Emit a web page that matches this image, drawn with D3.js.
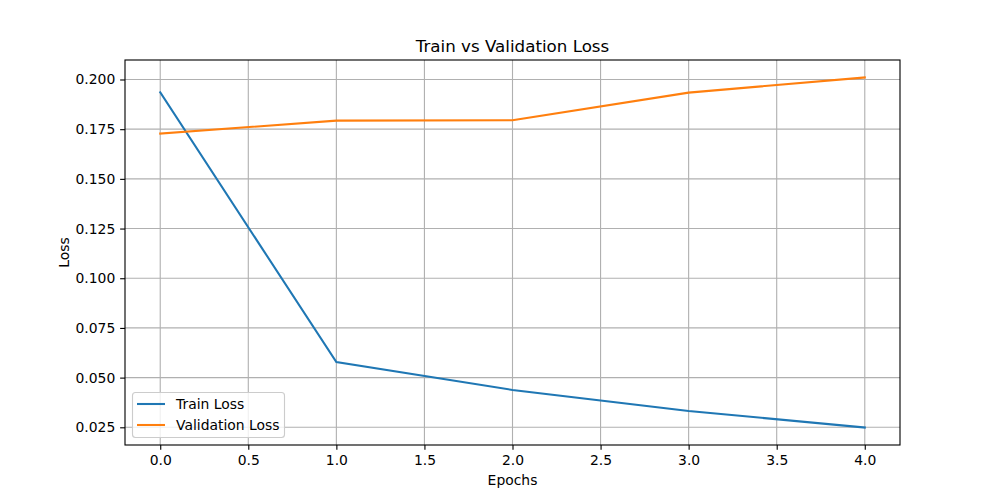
<!DOCTYPE html>
<html><head><meta charset="utf-8">
<script src="https://cdn.jsdelivr.net/npm/d3@7"></script>
<style>body{margin:0;background:#fff}svg{display:block}text{font-family:"DejaVu Sans",sans-serif}</style>
</head><body>
<svg id="c" width="1000" height="500"></svg>
<script>
const epochs = [0, 1, 2, 3, 4];
const trainLoss = [0.1935, 0.0578, 0.0438, 0.0332, 0.0249];
const valLoss = [0.1728, 0.1793, 0.1795, 0.1934, 0.2010];
const xTicks = [0, 0.5, 1, 1.5, 2, 2.5, 3, 3.5, 4];
const yTicks = [0.025, 0.05, 0.075, 0.1, 0.125, 0.15, 0.175, 0.2];
const seriesNames = ["Train Loss", "Validation Loss"];
const colors = ["#1f77b4", "#ff7f0e"];

const svg = d3.select("#c");
const L = 125, R = 900, T = 60, B = 445;
const xMin = 0, xMax = 4, xPad = (xMax - xMin) * 0.05;
const allY = trainLoss.concat(valLoss);
const yMin = d3.min(allY), yMax = d3.max(allY), yPad = (yMax - yMin) * 0.05;
const x = d3.scaleLinear().domain([xMin - xPad, xMax + xPad]).range([L, R]);
const y = d3.scaleLinear().domain([yMin - yPad, yMax + yPad]).range([B, T]);

// grid
const g = svg.append("g");
g.selectAll(".vx").data(xTicks).join("line")
  .attr("x1", d => x(d)).attr("x2", d => x(d)).attr("y1", T).attr("y2", B)
  .attr("stroke", "#b0b0b0").attr("stroke-width", 1.11);
g.selectAll(".hy").data(yTicks).join("line")
  .attr("y1", d => y(d)).attr("y2", d => y(d)).attr("x1", L).attr("x2", R)
  .attr("stroke", "#b0b0b0").attr("stroke-width", 1.11);

// axes
const xAxis = d3.axisBottom(x).tickValues(xTicks).tickFormat(d3.format(".1f")).tickSize(4.86).tickPadding(4.86);
const yAxis = d3.axisLeft(y).tickValues(yTicks).tickFormat(d3.format(".3f")).tickSize(4.86).tickPadding(4.86);
const xa = svg.append("g").attr("transform", `translate(0,${B})`).call(xAxis);
const ya = svg.append("g").attr("transform", `translate(${L},0)`).call(yAxis);
[xa, ya].forEach(a => {
  a.select(".domain").remove();
  a.selectAll("line").attr("stroke", "#000").attr("stroke-width", 1.11);
  a.selectAll("text").attr("font-size", "13.9px").attr("fill", "#000").attr("font-family", "DejaVu Sans, sans-serif");
});

// lines
const line = d3.line().x((d, i) => x(epochs[i])).y(d => y(d));
[trainLoss, valLoss].forEach((s, k) => {
  svg.append("path").datum(s).attr("d", line).attr("fill", "none")
    .attr("stroke", colors[k]).attr("stroke-width", 2.08).attr("stroke-linecap", "square");
});

// frame
svg.append("rect").attr("x", L).attr("y", T).attr("width", R - L).attr("height", B - T)
  .attr("fill", "none").attr("stroke", "#000").attr("stroke-width", 1.11);

// title & labels
svg.append("text").attr("x", (L + R) / 2).attr("y", T - 8.3).attr("text-anchor", "middle")
  .attr("font-size", "16.7px").text("Train vs Validation Loss");
svg.append("text").attr("x", (L + R) / 2).attr("y", 485).attr("text-anchor", "middle")
  .attr("font-size", "13.9px").text("Epochs");
svg.append("text").attr("transform", `translate(69,${(T + B) / 2}) rotate(-90)`).attr("text-anchor", "middle")
  .attr("font-size", "13.9px").text("Loss");

// legend
const lg = svg.append("g");
lg.append("rect").attr("x", 132.5).attr("y", 392.5).attr("width", 152).attr("height", 45)
  .attr("rx", 3).attr("fill", "#fff").attr("fill-opacity", 0.8).attr("stroke", "#cccccc").attr("stroke-width", 1.11);
seriesNames.forEach((n, k) => {
  const yy = 404 + k * 21;
  lg.append("line").attr("x1", 137).attr("x2", 165).attr("y1", yy).attr("y2", yy)
    .attr("stroke", colors[k]).attr("stroke-width", 2.08);
  lg.append("text").attr("x", 176).attr("y", yy + 5).attr("font-size", "13.9px").text(n);
});
</script>
</body></html>
